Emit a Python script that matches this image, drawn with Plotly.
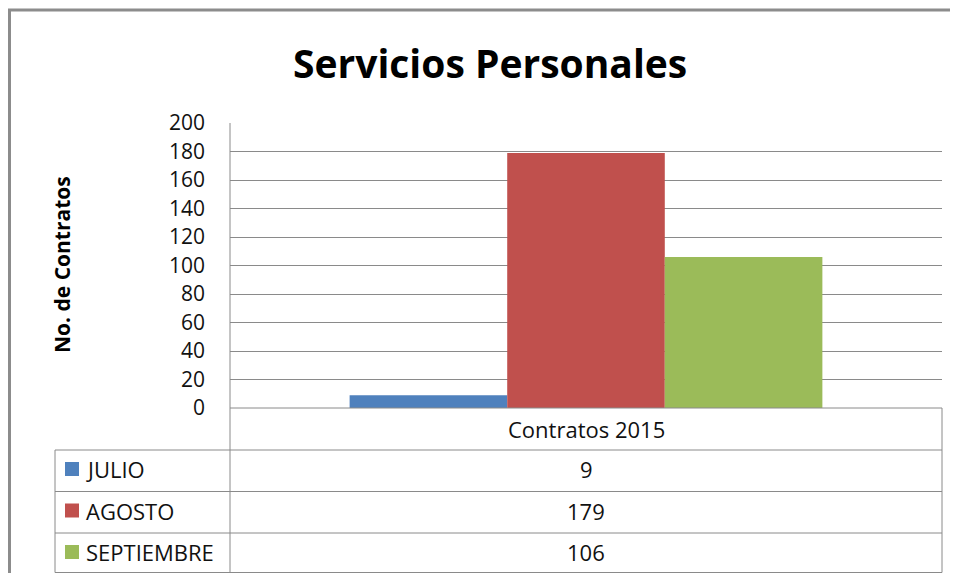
import plotly.graph_objects as go

# datos del gráfico
categoria = ["Contratos 2015"]
meses = ["JULIO", "AGOSTO", "SEPTIEMBRE"]
contratos = [9, 179, 106]
colores = ["#4F81BD", "#C0504D", "#9BBB59"]
y_ticks = list(range(0, 201, 20))

OFF = 8  # margen del body de la pagina html
W, H = 958 - OFF, 581 - 2 * OFF
L, R, T, B = 230, 942, 123, 408  # area de trazado en pixeles (pantalla)
FONT = "Open Sans"
GRID = "#8a8a8a"


def px(x):
    return (x - L) / (R - L)


def py(y):
    return (B - y) / (B - T)


fig = go.Figure()
for mes, val, col in zip(meses, contratos, colores):
    fig.add_trace(go.Bar(x=categoria, y=[val], name=mes, marker=dict(color=col, line=dict(width=0))))

shapes = []


def linea(x0, y0, x1, y1, color=GRID, width=1):
    shapes.append(dict(type="line", xref="paper", yref="paper",
                       x0=px(x0), y0=py(y0), x1=px(x1), y1=py(y1),
                       line=dict(color=color, width=width)))


# borde exterior del grafico
linea(9.5, 10, 9.5, 600, color="#8c8c8c", width=3)
linea(8, 10, 970, 10, color="#8c8c8c", width=3)

# tabla de datos
fondo = 572.5
linea(L, T, L, fondo)
linea(R, B, R, fondo)
linea(55, 450, 55, fondo)
linea(L, B, R, B)
for yy in [450, 491.5, 533, fondo]:
    linea(55, yy, R, yy)

annotations = []
filas = [469, 510.5, 552]
for mes, val, col, yc in zip(meses, contratos, colores, filas):
    shapes.append(dict(type="rect", xref="paper", yref="paper",
                       x0=px(65), x1=px(79), y0=py(yc - 7), y1=py(yc + 7),
                       fillcolor=col, line=dict(width=0)))
    annotations.append(dict(text=mes, xref="paper", yref="paper", x=px(84), y=py(yc),
                            xanchor="left", yanchor="middle", showarrow=False,
                            font=dict(family=FONT, size=22, color="#111")))
    annotations.append(dict(text=str(val), xref="paper", yref="paper", x=px(586), y=py(yc),
                            xanchor="center", yanchor="middle", showarrow=False,
                            font=dict(family=FONT, size=22, color="#111")))

annotations.append(dict(text=categoria[0], xref="paper", yref="paper", x=px(586), y=py(428.5),
                        xanchor="center", yanchor="middle", showarrow=False,
                        font=dict(family=FONT, size=22, color="#111")))
annotations.append(dict(text="<b>Servicios Personales</b>", xref="paper", yref="paper",
                        x=px(490), y=py(62), xanchor="center", yanchor="middle", showarrow=False,
                        font=dict(family=FONT, size=39, color="#000")))
annotations.append(dict(text="<b>No. de Contratos</b>", xref="paper", yref="paper",
                        x=px(62), y=py(265), xanchor="center", yanchor="middle", showarrow=False,
                        textangle=-90, font=dict(family=FONT, size=21, color="#000")))

fig.update_layout(
    width=W, height=H,
    margin=dict(l=L - OFF, r=W - (R - OFF), t=T - OFF, b=H - (B - OFF)),
    paper_bgcolor="white", plot_bgcolor="white",
    barmode="group", bargap=0.336, bargroupgap=0,
    showlegend=False,
    shapes=shapes, annotations=annotations,
    xaxis=dict(showticklabels=False, showgrid=False, zeroline=False, showline=False, fixedrange=True),
    yaxis=dict(range=[0, 200], tickvals=y_ticks, showgrid=True, gridcolor=GRID, gridwidth=1,
               zeroline=False, showline=False, ticklabelstandoff=24,
               tickfont=dict(family=FONT, size=21, color="#111")),
)

fig.write_html("out.html")
